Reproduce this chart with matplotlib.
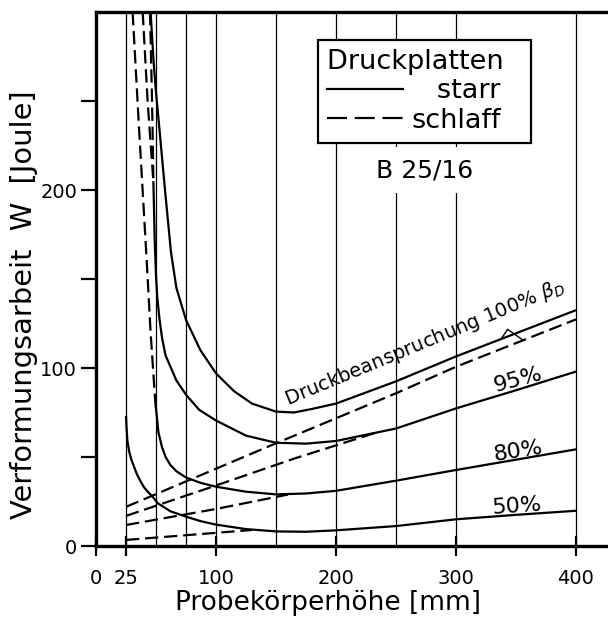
import numpy as np
import matplotlib
matplotlib.use("Agg")
import matplotlib.pyplot as plt
from matplotlib.lines import Line2D

plt.rcParams['font.family'] = ['DejaVu Sans']
plt.rcParams['mathtext.fontset'] = 'dejavusans'

# ---------------- data ----------------
# solid curves (Druckplatten starr)
x100 = [45.5, 48, 50, 53.3, 57.5, 62.5, 67, 75, 87, 100, 115, 130, 150, 165, 180, 200, 250, 300, 350, 400]
y100 = [300, 272, 255, 231, 200, 165, 145, 127, 110, 97, 87, 80, 75.5, 75, 77, 80, 92.5, 106.5, 119.5, 132.5]

x95 = [47.8, 49, 50, 51, 53, 55, 58, 62.5, 67, 75, 86, 100, 125, 150, 175, 200, 250, 300, 350, 400]
y95 = [205, 170, 152, 140, 127, 117, 107, 100, 93, 85, 76.5, 70.5, 62, 58, 57.5, 59, 66, 77.3, 87.5, 98]

x80 = [49.5, 50.5, 52, 55, 58, 62, 67, 75, 87, 100, 125, 150, 175, 200, 250, 300, 350, 400]
y80 = [80, 74, 64, 55.5, 50, 45.5, 42, 38.5, 35.5, 33.3, 30.5, 29, 29.5, 31, 36.7, 42.7, 48.5, 54.3]

x50 = [25, 25.5, 26.1, 27.5, 29.5, 31.7, 34, 37, 40, 43.5, 47.2, 51.5, 62, 75, 87, 100, 125, 150, 175, 200, 250, 300, 350, 400]
y50 = [73, 66, 59.5, 53.5, 48.5, 44.5, 40.5, 36.5, 33, 30.2, 27.7, 24, 19.5, 16.5, 14, 12, 9.5, 8.2, 8, 8.8, 11.2, 15, 17.5, 19.8]

# dashed curves (Druckplatten schlaff)
xd1 = [30.5, 36, 42.2, 45.5, 49.5]          # steep branch joining 80 %
yd1 = [300, 233, 161, 120, 80]
xd2 = [38.9, 43, 45, 47.8]                  # steep branches joining 95 %
yd2 = [300, 250, 231, 205]
xd3 = [45, 46.7, 47.3, 47.8]
yd3 = [300, 250, 228, 205]

xl1 = [25, 150, 250, 300, 400]
yl1 = [22, 57.7, 85.8, 100.7, 127.3]
xl2 = [25, 100, 166, 235]
yl2 = [16.9, 34, 49.3, 64]
xl3 = [25, 100, 160]
yl3 = [11.8, 20.8, 28.9]
xl4 = [25, 130]
yl4 = [3.4, 9]

xticks = [0, 25, 100, 200, 300, 400]
xgrid = [25, 50, 75, 100, 150, 200, 250, 300, 400]
yticks = [0, 50, 100, 150, 200, 250]
ylabels = ['0', '', '100', '', '200', '']

# ---------------- figure ----------------
fig = plt.figure(figsize=(6.08, 6.18), dpi=100)
ax = fig.add_axes([96/608, 72/618, 510/608, 534/618])
ax.set_xlim(0, 425)
ax.set_ylim(0, 300)

for g in xgrid:
    ax.axvline(g, color='black', lw=0.9, zorder=1)

lw = 1.6
dash = (0, (6, 2.6))
for xs, ys in [(x100, y100), (x95, y95), (x80, y80), (x50, y50)]:
    ax.plot(xs, ys, color='black', lw=lw, zorder=3, solid_capstyle='butt')
for xs, ys in [(xd1, yd1), (xd2, yd2), (xd3, yd3), (xl1, yl1), (xl2, yl2), (xl3, yl3), (xl4, yl4)]:
    ax.plot(xs, ys, color='black', lw=lw, ls=dash, zorder=3)

# spines & ticks
for s in ['left', 'top', 'bottom']:
    ax.spines[s].set_linewidth(2.4)
ax.spines['right'].set_visible(False)
ax.set_xticks(xticks)
ax.set_xticklabels([str(t) for t in xticks])
ax.set_yticks(yticks)
ax.set_yticklabels(ylabels)
ax.tick_params(axis='x', direction='inout', length=14, width=1.6, pad=9.5, labelsize=14)
ax.tick_params(axis='y', direction='out', length=10.5, width=1.6, pad=3, labelsize=14)

ax.set_xlabel('Probekörperhöhe [mm]', fontsize=19)
ax.xaxis.set_label_coords(0.455, -0.083)
ax.set_ylabel('Verformungsarbeit  W  [Joule]', fontsize=20.8)
ax.yaxis.set_label_coords(-0.114, 0.451)

# legend
h1 = Line2D([], [], color='black', lw=lw)
h2 = Line2D([], [], color='black', lw=lw, ls=(0, (9, 3.5)))
leg = ax.legend([h1, h2], ['   starr', 'schlaff'], title='Druckplatten  ',
                loc='upper left', bbox_to_anchor=(0.435, 0.948),
                fontsize=19.5, title_fontsize=19.5, alignment='left',
                handlelength=2.8, handletextpad=0.3, labelspacing=0.12,
                borderpad=0.35, fancybox=False, framealpha=1,
                edgecolor='black', borderaxespad=0)
leg.get_frame().set_linewidth(1.6)

ax.text(274, 211, 'B 25/16', fontsize=18, ha='center', va='center',
        bbox=dict(facecolor='white', edgecolor='none', pad=8), zorder=4)

# curve labels
ax.text(160, 79, r'Druckbeanspruchung 100% $\beta_D$', fontsize=14,
        rotation=22.5, rotation_mode='anchor', ha='left', va='baseline', zorder=4)
ax.text(352, 93.6, '95%', fontsize=16, rotation=15, ha='center', va='center')
ax.text(352, 53, '80%', fontsize=16, rotation=9, ha='center', va='center')
ax.text(351, 22.5, '50%', fontsize=16, rotation=4, ha='center', va='center')

# small bracket from the 100 % label to the solid and dashed line
apex = (343, 121.7)
xa, xb = 337.5, 356
ax.plot([xa, apex[0], xb], [np.interp(xa, x100, y100), apex[1], np.interp(xb, xl1, yl1)],
        color='black', lw=1.0, zorder=4)

fig.savefig('out.png', dpi=100)
